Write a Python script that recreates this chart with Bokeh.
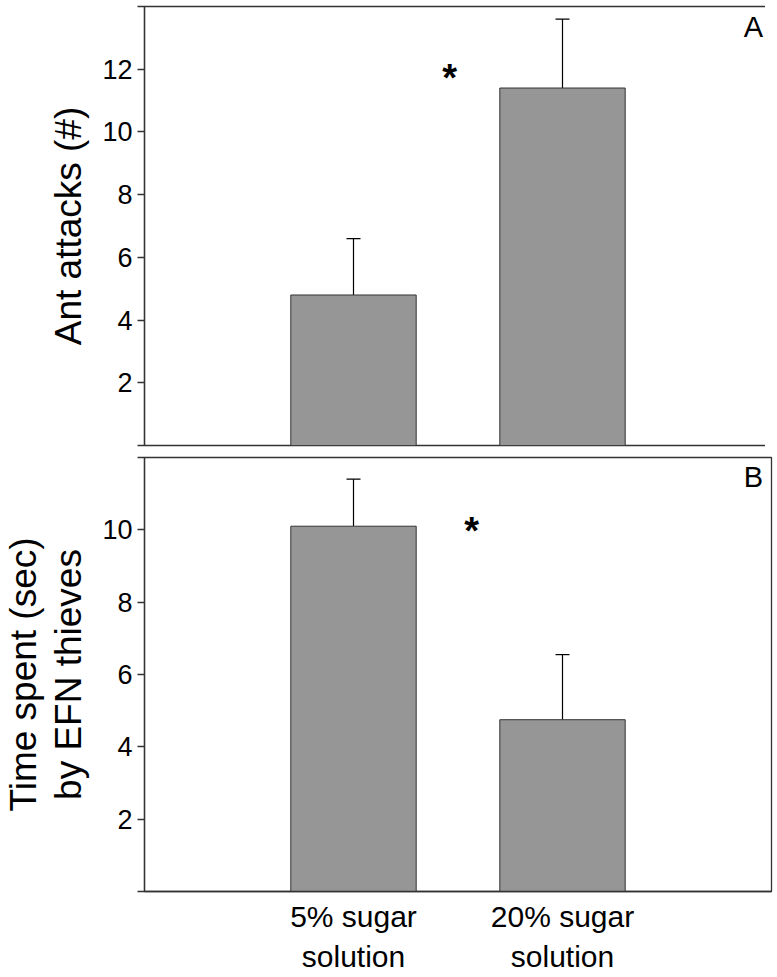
from bokeh.plotting import figure
from bokeh.layouts import column
from bokeh.models import Range1d, FixedTicker, Whisker, TeeHead, ColumnDataSource, Label
from bokeh.embed import file_html
from bokeh.resources import INLINE

# ---- data ----
categories = ["5% sugar\nsolution", "20% sugar\nsolution"]
positions = [1, 2]
attacks = [4.8, 11.4]
attacks_se = [1.8, 2.2]
time_spent = [10.1, 4.75]
time_se = [1.3, 1.8]
ticks_a = [0, 2, 4, 6, 8, 10, 12, 14]
ticks_b = [0, 2, 4, 6, 8, 10, 12]

FONT = "Liberation Sans"
BAR = "#969696"
EDGE = "#333333"


def make_panel(values, errs, ymax, yticks, ylabel, letter, letter_y, star_x, star_y,
               frame_h, border_top, border_bottom, show_x):
    p = figure(frame_width=627, frame_height=frame_h, output_backend="svg",
               toolbar_location=None,
               x_range=Range1d(0, 3), y_range=Range1d(0, ymax),
               min_border_left=134, min_border_right=4,
               min_border_top=border_top, min_border_bottom=border_bottom)
    p.grid.visible = False
    p.outline_line_color = EDGE
    p.outline_line_width = 1.3
    p.background_fill_color = "white"
    p.border_fill_color = "white"

    src = ColumnDataSource(dict(x=positions, top=values,
                                upper=[v + e for v, e in zip(values, errs)]))
    p.vbar(x="x", top="top", width=0.6, source=src, fill_color=BAR,
           line_color=EDGE, line_width=1)
    w = Whisker(source=src, base="x", lower="top", upper="upper",
                line_color="black", line_width=1.2, lower_head=None,
                upper_head=TeeHead(size=14, line_color="black", line_width=1.2))
    p.add_layout(w)

    # y axis
    ya = p.yaxis[0]
    ya.ticker = FixedTicker(ticks=yticks)
    ya.major_label_overrides = {yticks[0]: "", yticks[-1]: ""}
    ya.major_tick_out = 7
    ya.major_tick_in = 0
    ya.minor_tick_out = 0
    ya.minor_tick_in = 0
    ya.axis_line_color = EDGE
    ya.axis_line_width = 1.3
    ya.major_tick_line_color = EDGE
    ya.major_tick_line_width = 1.3
    ya.major_label_text_font = FONT
    ya.major_label_text_font_size = "27px"
    ya.major_label_text_color = "black"
    ya.major_label_standoff = 5
    ya.axis_label = ylabel
    ya.axis_label_text_font = FONT
    ya.axis_label_text_font_size = "37px"
    ya.axis_label_text_font_style = "normal"
    ya.axis_label_text_color = "black"
    ya.axis_label_text_line_height = 1.1
    ya.axis_label_standoff = 10

    xa = p.xaxis[0]
    if show_x:
        xa.ticker = FixedTicker(ticks=positions)
        xa.major_label_overrides = {pos: lab for pos, lab in zip(positions, categories)}
        xa.major_tick_out = 0
        xa.major_tick_in = 0
        xa.minor_tick_out = 0
        xa.minor_tick_in = 0
        xa.axis_line_color = EDGE
        xa.axis_line_width = 1.3
        xa.major_label_text_font = FONT
        xa.major_label_text_font_size = "30px"
        xa.major_label_text_color = "black"
        xa.major_label_text_line_height = 1.22
        xa.major_label_standoff = 8
    else:
        xa.visible = False

    p.add_layout(Label(x=2.96, y=letter_y, text=letter, text_align="right",
                       text_baseline="alphabetic", text_font=FONT,
                       text_font_size="29px", text_color="black"))
    p.add_layout(Label(x=star_x, y=star_y, text="*", text_align="center",
                       text_baseline="alphabetic", text_font=FONT,
                       text_font_size="38px", text_font_style="bold",
                       text_color="black"))
    return p


top = make_panel(attacks, attacks_se, 14, ticks_a, "Ant attacks (#)", "A", 13.34,
                 1.46, 11.73, frame_h=439, border_top=6, border_bottom=6, show_x=False)
bottom = make_panel(time_spent, time_se, 12, ticks_b, "Time spent (sec)\nby EFN thieves",
                    "B", 11.46, 1.565, 9.97, frame_h=434, border_top=6, border_bottom=0,
                    show_x=True)

layout = column(top, bottom, spacing=0)
open("out.html", "w").write(file_html(layout, INLINE))
